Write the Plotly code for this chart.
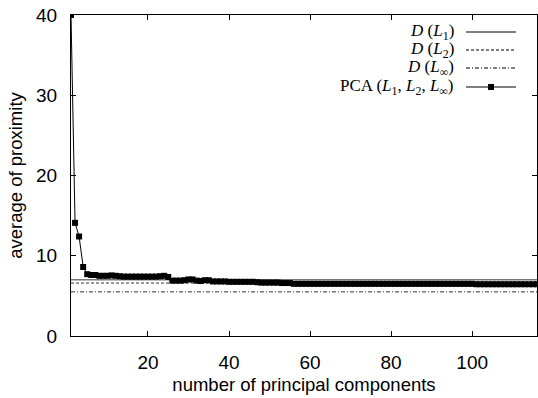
import plotly.graph_objects as go

# ---- data ----
components = list(range(1, 117))
pca_values = [
    40.0, 14.1, 12.4, 8.6, 7.7, 7.6, 7.6, 7.5, 7.5, 7.5,
    7.55, 7.5, 7.45, 7.4, 7.4, 7.4, 7.4, 7.4, 7.4, 7.4,
    7.4, 7.4, 7.45, 7.5, 7.35, 6.9, 6.9, 6.9, 6.95, 7.05,
    7.05, 6.9, 6.85, 6.95, 6.95, 6.8, 6.8, 6.8, 6.8, 6.75,
    6.75, 6.75, 6.75, 6.75, 6.75, 6.75, 6.7, 6.65, 6.65, 6.65,
    6.65, 6.65, 6.6, 6.6, 6.6, 6.5, 6.5, 6.5, 6.5, 6.5,
    6.5, 6.5, 6.5, 6.5, 6.5, 6.5, 6.5, 6.5, 6.5, 6.5,
    6.5, 6.5, 6.5, 6.5, 6.5, 6.5, 6.5, 6.5, 6.5, 6.5,
    6.5, 6.5, 6.5, 6.5, 6.5, 6.5, 6.5, 6.5, 6.5, 6.5,
    6.5, 6.5, 6.5, 6.5, 6.5, 6.5, 6.5, 6.5, 6.5, 6.5,
    6.45, 6.45, 6.45, 6.45, 6.45, 6.45, 6.45, 6.45, 6.45, 6.45,
    6.45, 6.45, 6.45, 6.45, 6.45, 6.45,
]
d_l1 = 7.0
d_l2 = 6.6
d_linf = 5.5
x_range = [1, 116]
y_range = [0, 40]
x_ticks = [20, 40, 60, 80, 100]
y_ticks = [0, 10, 20, 30, 40]
legend_labels = [
    "<i>D</i> (<i>L</i><sub>1</sub>)",
    "<i>D</i> (<i>L</i><sub>2</sub>)",
    "<i>D</i> (<i>L</i><sub>∞</sub>)",
    "PCA (<i>L</i><sub>1</sub>, <i>L</i><sub>2</sub>, <i>L</i><sub>∞</sub>)",
]

fig = go.Figure()
line_color = "#333333"
dashes = ["solid", "3px,2px", "4px,2px,1px,2px"]
for val, dash in zip([d_l1, d_l2, d_linf], dashes):
    fig.add_trace(go.Scatter(
        x=x_range, y=[val, val], mode="lines",
        line=dict(color=line_color, width=1, dash=dash),
        showlegend=False, hoverinfo="skip"))

fig.add_trace(go.Scatter(
    x=components, y=pca_values, mode="lines+markers",
    line=dict(color="black", width=1),
    marker=dict(symbol="square", size=6, color="black"),
    showlegend=False))

# ---- manual legend (gnuplot style: text then sample) ----
L, R, T, B = 71, 537, 15, 336
W, H = R - L, B - T
def px(x):
    return (x - L) / W
def py(y):
    return (B - y) / H

rows = [32, 50, 68, 87]
shapes = []
annotations = []
for i, (lab, yy) in enumerate(zip(legend_labels, rows)):
    annotations.append(dict(
        x=px(455), y=py(yy), xref="paper", yref="paper",
        text=lab, showarrow=False, xanchor="right", yanchor="middle",
        height=16, borderpad=0,
        font=dict(family="Liberation Serif", size=17, color="black")))
    dash = dashes[i] if i < 3 else "solid"
    shapes.append(dict(
        type="line", xref="paper", yref="paper",
        x0=px(466), x1=px(516), y0=py(yy), y1=py(yy),
        line=dict(color="black", width=1, dash=dash)))
shapes.append(dict(
    type="rect", xref="paper", yref="paper",
    x0=px(488), x1=px(494), y0=py(rows[3] + 3), y1=py(rows[3] - 3),
    line=dict(width=0), fillcolor="black"))

font_family = "Liberation Sans, Arial, sans-serif"
fig.update_layout(
    width=538, height=398,
    margin=dict(l=L, r=538 - R, t=T, b=398 - B),
    paper_bgcolor="white", plot_bgcolor="white",
    font=dict(family=font_family, size=18, color="black"),
    shapes=shapes, annotations=annotations,
    xaxis=dict(
        range=x_range, tickvals=x_ticks, ticks="inside", ticklen=5,
        tickcolor="black", showline=True, linecolor="black", linewidth=1,
        mirror="ticks", showgrid=False, zeroline=False,
        ticklabelstandoff=9,
        title=dict(text="number of principal components", standoff=6,
                   font=dict(size=18.5)),
        tickfont=dict(size=19)),
    yaxis=dict(
        range=y_range, tickvals=y_ticks, ticks="inside", ticklen=5,
        tickcolor="black", showline=True, linecolor="black", linewidth=1,
        mirror="ticks", showgrid=False, zeroline=False,
        ticklabelstandoff=9,
        title=dict(text="average of proximity", standoff=8,
                   font=dict(size=18.5)),
        tickfont=dict(size=19)),
)

fig.write_html("out.html")
